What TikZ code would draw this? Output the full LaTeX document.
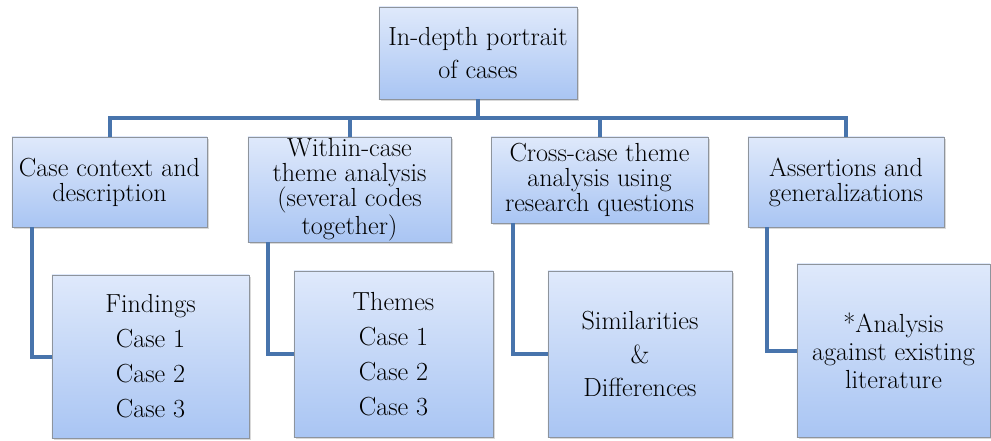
\documentclass[tikz,border=0pt]{standalone}
\usepackage{tikz}
\usetikzlibrary{shadows}
\definecolor{boxtop}{HTML}{DFE9FB}
\definecolor{boxbottom}{HTML}{A9C5F3}
\definecolor{linkblue}{HTML}{4874AC}
\definecolor{boxline}{HTML}{8E949C}

\begin{document}
\begin{tikzpicture}[x=0.025cm,y=-0.025cm,
    box/.style={draw=boxline,line width=0.6pt,top color=boxtop,bottom color=boxbottom,
      drop shadow={shadow xshift=1.5pt,shadow yshift=-1.5pt,opacity=0.3},
      align=center,inner sep=1pt,font=\fontsize{18.6}{17.8}\selectfont},
    leaf/.style={box,font=\fontsize{18.6}{24.9}\selectfont},
    link/.style={draw=linkblue,line width=0.1cm}]
  \useasboundingbox (0,0) rectangle (991,440);

  \coordinate (bar) at (478,118);

  \node[box,minimum width=4.95cm,minimum height=2.3cm,font=\fontsize{18.6}{23.5}\selectfont] (portrait) at (478,53) {In-depth portrait\\of cases};

  \node[box,minimum width=4.875cm,minimum height=2.25cm] (context)  at (109.5,182)  {Case context and\\description};
  \node[box,minimum width=5.075cm,minimum height=2.625cm] (within)  at (349.5,189.5) {Within-case\\theme analysis\\(several codes\\together)};
  \node[box,minimum width=5.425cm,minimum height=2.15cm] (cross)    at (599.5,180)  {Cross-case theme\\analysis using\\research questions};
  \node[box,minimum width=4.9cm,minimum height=2.25cm] (assert)     at (846,182)    {Assertions and\\generalizations};

  \node[leaf,minimum width=4.925cm,minimum height=4.075cm] (findings) at (150.5,356.5) {Findings\\Case 1\\Case 2\\Case 3};
  \node[leaf,minimum width=4.975cm,minimum height=4.15cm] (themes)    at (393.5,354)   {Themes\\Case 1\\Case 2\\Case 3};
  \node[leaf,minimum width=4.6cm,minimum height=4.15cm,font=\fontsize{18.6}{24}\selectfont] (similar) at (640,354) {Similarities\\\&\\Differences};
  \node[leaf,minimum width=4.825cm,minimum height=4.325cm,font=\fontsize{18.6}{19.9}\selectfont] (literature) at (893.5,350.5) {*Analysis\\against existing\\literature};

  % tree lines
  \path[link] (portrait.south) -- (bar);
  \path[link] (context.north) |- (bar) -| (assert.north);
  \path[link] (within.north) -- (within.north |- bar);
  \path[link] (cross.north) -- (cross.north |- bar);

  \path[link] ([xshift=0.5cm]context.south west) |- (findings.west);
  \path[link] ([xshift=0.5cm]within.south west)  |- (themes.west);
  \path[link] ([xshift=0.55cm]cross.south west)  |- (similar.west);
  \path[link] ([xshift=0.475cm]assert.south west) |- (literature.west);
\end{tikzpicture}
\end{document}
